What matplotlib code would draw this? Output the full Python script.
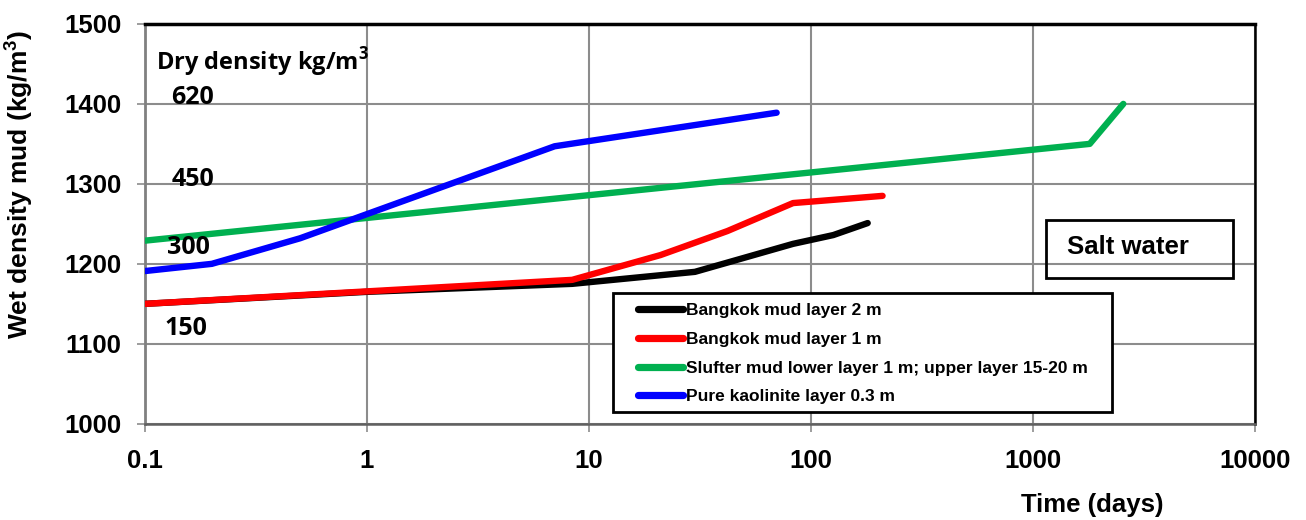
import numpy as np
import matplotlib.pyplot as plt
from matplotlib.patches import Rectangle
from matplotlib.transforms import blended_transform_factory

# consolidation curves: wet density of the mud layer against time
bkk2_t = [0.1, 1, 8.4, 30, 83, 126, 180]
bkk2_rho = [1150, 1165, 1175, 1190, 1225, 1236, 1251]

bkk1_t = [0.1, 8.4, 21, 42, 83, 210]
bkk1_rho = [1150, 1180, 1211, 1241, 1276, 1285]

slufter_t = [0.1, 1800, 2550]
slufter_rho = [1229, 1350, 1400]

kaol_t = [0.1, 0.2, 0.5, 7, 70]
kaol_rho = [1191, 1200, 1232, 1347, 1389]

series = [
    (bkk2_t, bkk2_rho, 'black', 'Bangkok mud layer 2 m'),
    (bkk1_t, bkk1_rho, '#ff0000', 'Bangkok mud layer 1 m'),
    (slufter_t, slufter_rho, '#00b050', 'Slufter mud lower layer 1 m; upper layer 15-20 m'),
    (kaol_t, kaol_rho, '#0000ff', 'Pure kaolinite layer 0.3 m'),
]

# dry density labels next to the wet density scale
dry_labels = ['620', '450', '300', '150']
dry_label_rho = [1408, 1305, 1220, 1119]
dry_label_x = [0.024, 0.024, 0.020, 0.018]

fig = plt.figure(figsize=(13.06, 5.2), dpi=100)
ax = fig.add_axes([0.111, 0.185, 0.850, 0.769])

handles = []
for t, rho, col, lab in series:
    h, = ax.plot(t, rho, color=col, lw=4.6, solid_capstyle='round',
                 solid_joinstyle='round', label=lab, zorder=3)
    handles.append(h)

ax.set_xscale('log')
ax.set_xlim(0.1, 10000)
ax.set_ylim(1000, 1500)
ax.set_xticks([0.1, 1, 10, 100, 1000, 10000])
ax.set_xticklabels(['0.1', '1', '10', '100', '1000', '10000'])
ax.xaxis.set_minor_locator(plt.NullLocator())
ax.set_yticks(np.arange(1000, 1501, 100))
ax.grid(True, color='#8c8c8c', lw=1.5, zorder=0)

for lab in ax.get_xticklabels() + ax.get_yticklabels():
    lab.set_fontfamily('Liberation Sans')
    lab.set_fontweight('bold')
    lab.set_fontsize(18.5)
ax.tick_params(axis='y', length=6, width=1.2, color='#8c8c8c', pad=11)
ax.tick_params(axis='x', length=6, width=1.2, color='#8c8c8c', pad=12)

ax.spines['top'].set_color('black')
ax.spines['top'].set_linewidth(2.5)
ax.spines['right'].set_color('black')
ax.spines['right'].set_linewidth(1.8)
ax.spines['left'].set_color('#808080')
ax.spines['left'].set_linewidth(2)
ax.spines['bottom'].set_color('#606060')
ax.spines['bottom'].set_linewidth(1.8)

ax.set_ylabel('Wet density mud (kg/m$^\\mathregular{3}$)', fontsize=19,
              fontweight='bold', family='Liberation Sans')
ax.yaxis.set_label_coords(-0.099, 0.598)
ax.set_xlabel('Time (days)', fontsize=18.5, fontweight='bold',
              family='Liberation Sans')
ax.xaxis.set_label_coords(0.853, -0.172)

ax.text(0.01, 0.905, 'Dry density kg/m$^\\mathregular{3}$', transform=ax.transAxes,
        fontsize=17, fontweight='bold', family='Open Sans', va='center')
trans = blended_transform_factory(ax.transAxes, ax.transData)
for s, x, r in zip(dry_labels, dry_label_x, dry_label_rho):
    ax.text(x, r, s, transform=trans, fontsize=18, fontweight='bold',
            family='Open Sans', va='center', ha='left')

# salt water box
ax.add_patch(Rectangle((0.812, 0.365), 0.168, 0.145, transform=ax.transAxes,
                       fill=False, ec='black', lw=2, zorder=5))
ax.text(0.831, 0.442, 'Salt water', transform=ax.transAxes, fontsize=18.5,
        fontweight='bold', family='Liberation Sans', va='center', zorder=6)

# legend drawn without its own frame, boxed separately
ax.add_patch(Rectangle((0.4216, 0.03), 0.4495, 0.2975, transform=ax.transAxes,
                       facecolor='white', ec='black', lw=2, zorder=5))
leg = ax.legend(handles=handles, loc='upper left', bbox_to_anchor=(0.444, 0.302),
                prop={'family': 'Liberation Sans', 'weight': 'bold', 'size': 12.5},
                frameon=False, handlelength=2.6, handletextpad=0.15,
                labelspacing=0.78, borderpad=0, borderaxespad=0)
for h in leg.get_lines():
    h.set_linewidth(5.2)
    h.set_solid_capstyle('round')
leg.set_zorder(6)

fig.savefig('out.png', dpi=100)
